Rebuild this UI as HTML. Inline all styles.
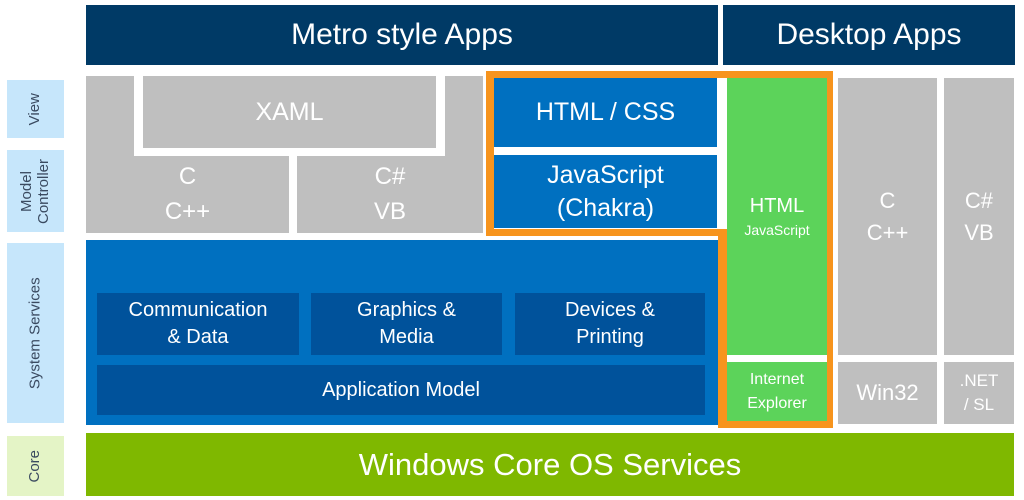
<!DOCTYPE html>
<html><head><meta charset="utf-8"><style>
body{margin:0;width:1024px;height:500px;background:#fff;position:relative;overflow:hidden;font-family:"Liberation Sans",sans-serif}
div{position:absolute;box-sizing:border-box}
.c{display:flex;align-items:center;justify-content:center;text-align:center;color:#fff;line-height:1.4}
.nv{background:#003a66}
.g{background:#bfbfbf}
.b{background:#0070c0}
.d{background:#00529b}
.gr{background:#5cd35a}
.o{background:#f7941d}
.lb{background:#c6e6fb;color:#3a4a60}
.lab{display:flex;align-items:center;justify-content:center}
.lab span{transform:rotate(-90deg);white-space:nowrap;font-size:15px;line-height:1.1;text-align:center}
</style></head><body>
<div class="nv c" style="left:86px;top:5px;width:632px;height:60px;font-size:30px">Metro style Apps</div>
<div class="nv c" style="left:723px;top:5px;width:292px;height:60px;font-size:30px">Desktop Apps</div>

<div class="lb lab" style="left:7px;top:80px;width:57px;height:58px"><span>View</span></div>
<div class="lb lab" style="left:7px;top:150px;width:57px;height:82px"><span>Model<br>Controller</span></div>
<div class="lb lab" style="left:7px;top:243px;width:57px;height:180px"><span>System Services</span></div>
<div class="lab" style="left:7px;top:436px;width:57px;height:60px;background:#e4f4c6;color:#3a4a60"><span>Core</span></div>

<div class="g" style="left:86px;top:76px;width:397px;height:157px"></div>
<div style="left:134px;top:76px;width:311px;height:80px;background:#fff"></div>
<div class="g c" style="left:143px;top:76px;width:293px;height:72px;font-size:25px">XAML</div>
<div class="c" style="left:86px;top:156px;width:203px;height:77px;font-size:24px;line-height:1.45">C<br>C++</div>
<div style="left:289px;top:156px;width:8px;height:77px;background:#fff"></div>
<div class="c" style="left:297px;top:156px;width:186px;height:77px;font-size:24px;line-height:1.45">C#<br>VB</div>

<div class="b c" style="left:494px;top:78px;width:223px;height:69px;font-size:25px">HTML / CSS</div>
<div class="b c" style="left:494px;top:155px;width:223px;height:73px;font-size:25px;line-height:1.3">JavaScript<br>(Chakra)</div>

<div class="b" style="left:86px;top:240px;width:632px;height:185px"></div>
<div class="d c" style="left:97px;top:293px;width:202px;height:62px;font-size:20px;line-height:1.35">Communication<br>&amp; Data</div>
<div class="d c" style="left:311px;top:293px;width:191px;height:62px;font-size:20px;line-height:1.35">Graphics &amp;<br>Media</div>
<div class="d c" style="left:515px;top:293px;width:190px;height:62px;font-size:20px;line-height:1.35">Devices &amp;<br>Printing</div>
<div class="d c" style="left:97px;top:365px;width:608px;height:50px;font-size:20px">Application Model</div>

<div class="gr c" style="left:727px;top:78px;width:100px;height:277px;font-size:20px;flex-direction:column;line-height:1.2">HTML<span style="font-size:14px;margin-top:4px">JavaScript</span></div>
<div class="gr c" style="left:727px;top:362px;width:100px;height:59px;font-size:16px;line-height:1.45">Internet<br>Explorer</div>

<div class="o" style="left:486px;top:71px;width:347px;height:7px"></div>
<div class="o" style="left:486px;top:71px;width:8px;height:165px"></div>
<div class="o" style="left:486px;top:229px;width:241px;height:7px"></div>
<div class="o" style="left:718px;top:229px;width:9px;height:199px"></div>
<div class="o" style="left:827px;top:71px;width:6px;height:357px"></div>
<div class="o" style="left:718px;top:421px;width:115px;height:7px"></div>

<div class="g c" style="left:838px;top:78px;width:99px;height:277px;font-size:22px;line-height:1.45">C<br>C++</div>
<div class="g c" style="left:944px;top:78px;width:70px;height:277px;font-size:22px;line-height:1.45">C#<br>VB</div>
<div class="g c" style="left:838px;top:362px;width:99px;height:62px;font-size:22px">Win32</div>
<div class="g c" style="left:944px;top:362px;width:70px;height:62px;font-size:17px;line-height:1.4">.NET<br>/ SL</div>

<div class="c" style="left:86px;top:433px;width:928px;height:63px;background:#7fb800;font-size:31px">Windows Core OS Services</div>
</body></html>
